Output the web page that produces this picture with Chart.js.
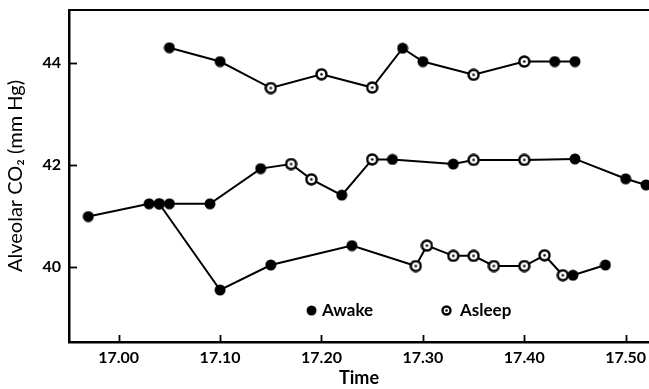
<!DOCTYPE html>
<html>
<head>
<meta charset="utf-8">
<script src="https://cdn.jsdelivr.net/npm/chart.js@4.4.1/dist/chart.umd.min.js"></script>
<style>
  html, body { margin: 0; padding: 0; background: #fff; }
  #wrap { width: 649px; height: 389px; }
</style>
</head>
<body>
<div id="wrap"><canvas id="myChart" width="649" height="389"></canvas></div>
<script>
// values (time of day, alveolar CO2 in mm Hg, 1 = asleep)
const topTimes  = [17.05, 17.10, 17.15, 17.20, 17.25, 17.28, 17.30, 17.35, 17.40, 17.43, 17.45];
const topCO2    = [44.30, 44.03, 43.51, 43.78, 43.52, 44.29, 44.03, 43.77, 44.03, 44.03, 44.03];
const topAsleep = [0, 0, 1, 1, 1, 0, 0, 1, 1, 0, 0];

const midTimes  = [16.97, 17.03, 17.04, 17.05, 17.09, 17.14, 17.17, 17.19, 17.22, 17.25, 17.27, 17.33, 17.35, 17.40, 17.45, 17.50, 17.52];
const midCO2    = [40.99, 41.24, 41.24, 41.24, 41.24, 41.93, 42.02, 41.72, 41.41, 42.11, 42.11, 42.02, 42.10, 42.10, 42.12, 41.73, 41.61];
const midAsleep = [0, 0, 0, 0, 0, 0, 1, 1, 0, 1, 0, 0, 1, 1, 0, 0, 0];

const lowTimes  = [17.04, 17.10, 17.15, 17.23, 17.293, 17.304, 17.33, 17.35, 17.37, 17.40, 17.42, 17.438, 17.448, 17.48];
const lowCO2    = [41.24, 39.55, 40.04, 40.42, 40.02, 40.42, 40.22, 40.22, 40.02, 40.02, 40.23, 39.84, 39.84, 40.04];
const lowAsleep = [0, 0, 0, 0, 1, 1, 1, 1, 1, 1, 1, 1, 0, 0];

const xTicks = [17.00, 17.10, 17.20, 17.30, 17.40, 17.50];
const yTicks = [40, 42, 44];
const legendLabels = ["Awake", "Asleep"];

const FONT = "Lato, 'DejaVu Sans', sans-serif";

// marker pictures
function awakeDot(d) {
    let c = document.createElement("canvas");
    c.width = d; c.height = d;
    let ctx = c.getContext("2d");
    ctx.fillStyle = "#000";
    ctx.beginPath();
    ctx.arc(d / 2, d / 2, d / 2 - 0.5, 0, Math.PI * 2);
    ctx.fill();
    return c;
}
function asleepDot(d) {
    let c = document.createElement("canvas");
    c.width = d; c.height = d;
    let ctx = c.getContext("2d");
    ctx.fillStyle = "#fff";
    ctx.strokeStyle = "#000";
    ctx.lineWidth = 2.4;
    ctx.beginPath();
    ctx.arc(d / 2, d / 2, d / 2 - 1.5, 0, Math.PI * 2);
    ctx.fill();
    ctx.stroke();
    ctx.fillStyle = "#000";
    ctx.beginPath();
    ctx.arc(d / 2, d / 2, 1.3, 0, Math.PI * 2);
    ctx.fill();
    return c;
}
const awakeImg = awakeDot(12);
const asleepImg = asleepDot(13);

function makeSet(times, vals, asleep) {
    let pts = [];
    for (let i = 0; i < times.length; i++)
        pts.push({ x: times[i], y: vals[i] });
    return {
        data: pts,
        showLine: true,
        clip: false,
        borderColor: "#000",
        borderWidth: 2,
        pointStyle: asleep.map(a => a ? asleepImg : awakeImg),
        pointRadius: 6,
        pointHoverRadius: 6
    };
}

function noPad(s) {
    s.paddingTop = 0; s.paddingBottom = 0;
    s.paddingLeft = 0; s.paddingRight = 0;
}

// inward tick marks, top frame line and the in-plot key
const extras = {
    id: "extras",
    afterDraw(chart) {
        let ctx = chart.ctx;
        let a = chart.chartArea;
        let xs = chart.scales.x, ys = chart.scales.y;
        ctx.save();
        ctx.strokeStyle = "#000";
        ctx.lineWidth = 2;
        ctx.beginPath();
        ctx.moveTo(a.left, a.top);
        ctx.lineTo(a.right, a.top);
        ctx.stroke();
        ctx.lineWidth = 1.8;
        xTicks.forEach(v => {
            let px = Math.round(xs.getPixelForValue(v)) + 0.5;
            ctx.beginPath();
            ctx.moveTo(px, a.bottom);
            ctx.lineTo(px, a.bottom - 7);
            ctx.stroke();
        });
        yTicks.forEach(v => {
            let py = Math.round(ys.getPixelForValue(v)) + 0.5;
            ctx.beginPath();
            ctx.moveTo(a.left, py);
            ctx.lineTo(a.left + 8, py);
            ctx.stroke();
        });
        // key
        let ky = a.top + 301;
        ctx.drawImage(awakeImg, a.left + 237, ky - 6, 11, 11);
        ctx.drawImage(asleepDot(11), a.left + 372, ky - 6);
        ctx.fillStyle = "#000";
        ctx.font = "bold 17px " + FONT;
        ctx.textBaseline = "middle";
        ctx.fillText(legendLabels[0], a.left + 253, ky);
        ctx.fillText(legendLabels[1], a.left + 391, ky);
        ctx.restore();
    }
};

new Chart(document.getElementById("myChart"), {
    type: "scatter",
    data: {
        datasets: [
            makeSet(topTimes, topCO2, topAsleep),
            makeSet(midTimes, midCO2, midAsleep),
            makeSet(lowTimes, lowCO2, lowAsleep)
        ]
    },
    options: {
        responsive: false,
        animation: false,
        layout: { autoPadding: false, padding: { top: 10, right: 0, left: 0, bottom: 0 } },
        plugins: { legend: { display: false }, tooltip: { enabled: false } },
        scales: {
            x: {
                type: "linear",
                min: 16.951,
                max: 17.523,
                afterFit(s) { s.height = 47; noPad(s); },
                afterBuildTicks(s) { s.ticks = xTicks.map(v => ({ value: v })); },
                ticks: {
                    color: "#000",
                    padding: 6,
                    font: { family: FONT, size: 16, weight: "bold" },
                    callback: v => Number(v).toFixed(2)
                },
                grid: { drawOnChartArea: false, drawTicks: false },
                border: { color: "#000", width: 2.5 },
                title: {
                    display: true,
                    text: "Time",
                    color: "#000",
                    padding: { top: 0, bottom: 0 },
                    font: { family: FONT, size: 18, weight: "bold" }
                }
            },
            y: {
                min: 38.53,
                max: 45.04,
                afterFit(s) { s.width = 69; noPad(s); },
                afterBuildTicks(s) { s.ticks = yTicks.map(v => ({ value: v })); },
                ticks: {
                    color: "#000",
                    padding: 8,
                    font: { family: FONT, size: 16, weight: "bold" }
                },
                grid: { drawOnChartArea: false, drawTicks: false },
                border: { color: "#000", width: 2.5 },
                title: {
                    display: true,
                    text: "Alveolar CO\u2082 (mm Hg)",
                    color: "#000",
                    padding: { top: 4, bottom: 0 },
                    font: { family: FONT, size: 20 }
                }
            }
        }
    },
    plugins: [extras]
});
</script>
</body>
</html>
